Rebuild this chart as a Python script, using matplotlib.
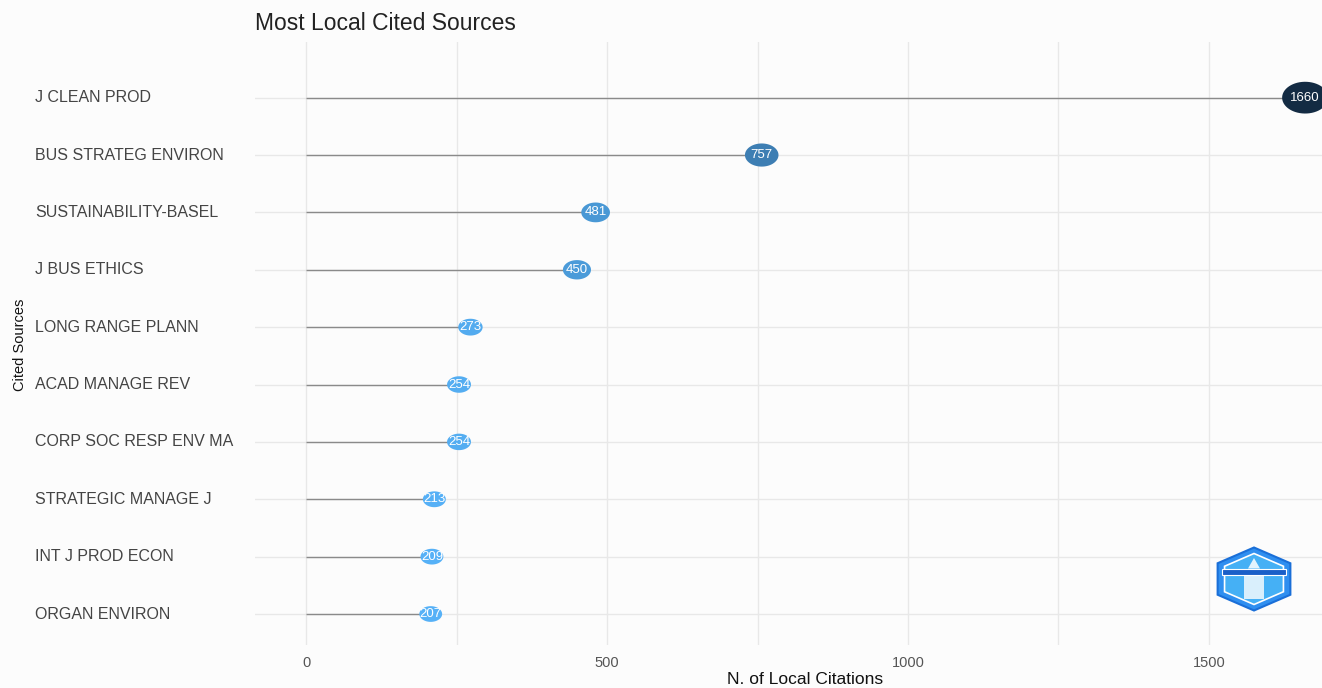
import matplotlib
matplotlib.use("Agg")
import matplotlib.pyplot as plt
import numpy as np
from matplotlib.path import Path
from matplotlib.patches import RegularPolygon, Rectangle, Polygon
from matplotlib.colors import to_rgb

sources = ["J CLEAN PROD", "BUS STRATEG ENVIRON", "SUSTAINABILITY-BASEL", "J BUS ETHICS",
           "LONG RANGE PLANN", "ACAD MANAGE REV", "CORP SOC RESP ENV MA",
           "STRATEGIC MANAGE J", "INT J PROD ECON", "ORGAN ENVIRON"]
citations = [1660, 757, 481, 450, 273, 254, 254, 213, 209, 207]
xticks = [0, 500, 1000, 1500]

plt.rcParams['font.family'] = ['Liberation Sans', 'DejaVu Sans']

fig = plt.figure(figsize=(13.22, 6.88), dpi=100)
fig.patch.set_facecolor('#fcfcfc')
W, H = 1322, 688
ax = fig.add_axes([255 / W, 1 - 645 / H, (1322 - 255) / W, (645 - 42) / H])
ax.set_facecolor('#fcfcfc')

n = len(sources)
ypos = np.arange(n)[::-1]  # top item highest
vals = np.array(citations, dtype=float)
vmin, vmax = vals.min(), vals.max()
lo = np.array(to_rgb('#56B1F7'))
hi = np.array(to_rgb('#132B43'))
t = (vals - vmin) / (vmax - vmin)
cols = [tuple(lo + (hi - lo) * ti) for ti in t]
sizes = 270 + t * 830

theta = np.linspace(0, 2 * np.pi, 60)
ell = Path(np.column_stack([1.45 * np.cos(theta), np.sin(theta)]))

ax.set_xlim(-85, 1688)
ax.set_ylim(-0.54, n - 1 + 0.97)

for v in [0, 250, 500, 750, 1000, 1250, 1500]:
    ax.axvline(v, color='#e8e8e8', lw=1.0, zorder=0)
for y in ypos:
    ax.axhline(y, color='#e8e8e8', lw=1.0, zorder=0)

ax.hlines(ypos, 0, vals, color='#8a8a8a', lw=1.0, zorder=1)
ax.scatter(vals, ypos, s=sizes, c=cols, marker=ell, zorder=2, linewidths=0)
for v, y in zip(vals, ypos):
    ax.text(v, y, f"{int(v)}", color='white', ha='center', va='center', fontsize=9.5, zorder=3)

for s in ax.spines.values():
    s.set_visible(False)
ax.tick_params(length=0)
ax.set_xticks(xticks)
ax.set_xticklabels([str(x) for x in xticks], color='#555555', fontsize=10.5)
ax.tick_params(axis='x', pad=8)
ax.set_yticks([])

# y labels left-aligned at x=35 px
for lab, y in zip(sources, ypos):
    disp_y = ax.transData.transform((0, y))[1]
    fig.text(35 / W, disp_y / fig.dpi / fig.get_figheight(), lab, ha='left', va='center',
             fontsize=11.5, color='#444444')

fig.text(255 / W, 1 - 23 / H, "Most Local Cited Sources", ha='left', va='center', fontsize=16.5, color='#222222')
fig.text(805 / W, 1 - 680 / H, "N. of Local Citations", ha='center', va='center', fontsize=12.5, color='#111111')
fig.text(20 / W, 1 - 345 / H, "Cited Sources", ha='center', va='center', rotation=90, fontsize=10.5,
         color='#111111')

# logo
lax = fig.add_axes([1212 / W, 1 - 612 / H, 84 / W, 66 / H])
lax.set_xlim(-1.05, 1.05)
lax.set_ylim(-1.1, 1.1)
lax.axis('off')
lax.add_patch(RegularPolygon((0, 0), 6, radius=1.05, orientation=0, facecolor='#2f8ff0', edgecolor='#1a6fd8', lw=1.5))
lax.add_patch(RegularPolygon((0, 0), 6, radius=0.85, orientation=0, facecolor='#45b0f5', edgecolor='white', lw=1.2))
lax.add_patch(Rectangle((-0.8, 0.15), 1.6, 0.2, facecolor='#1a5fc8', edgecolor='white', lw=0.8))
lax.add_patch(Polygon([(-0.15, 0.35), (0, 0.7), (0.15, 0.35)], closed=True, facecolor='white', alpha=0.85, lw=0))
lax.add_patch(Rectangle((-0.25, -0.65), 0.5, 0.75, facecolor='white', alpha=0.8, lw=0))

fig.savefig("out.png", dpi=100, facecolor=fig.get_facecolor())
